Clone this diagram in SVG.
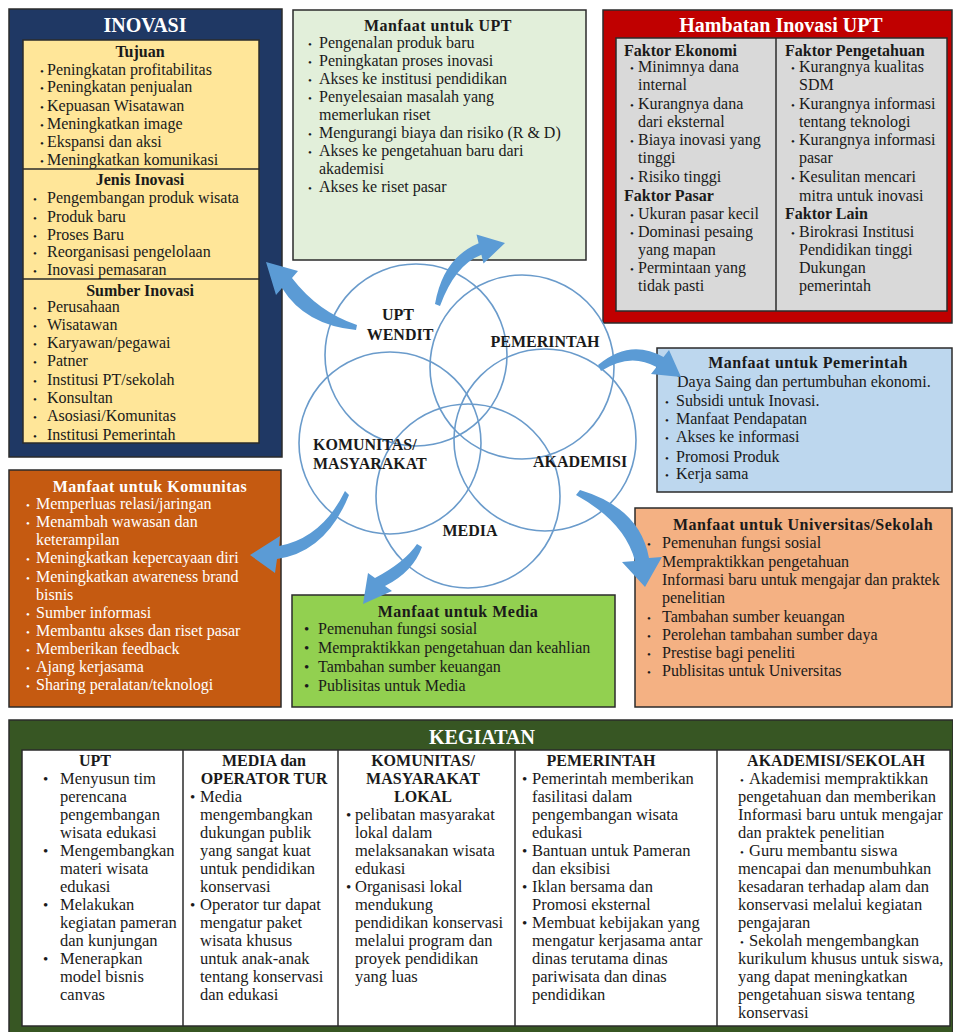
<svg xmlns="http://www.w3.org/2000/svg" width="953" height="1032" viewBox="0 0 953 1032">
<style>
text{font-family:"Liberation Serif","Times New Roman",serif;font-size:16px;fill:#1a1a1a}
.hd{font-weight:bold;text-anchor:middle}
.mt{font-weight:bold;text-anchor:middle;letter-spacing:0.5px}
.ttl{font-size:20px;font-weight:bold;fill:#fff;text-anchor:middle}
.wt{fill:#fff}
.bu{font-size:11px}
.bb{font-size:15px}
.k{font-size:16.5px}
.lbl{font-weight:bold;font-size:16px}
.box{stroke:#2b2b2b;stroke-width:1.5}
.circ{fill:none;stroke:#6a9bcb;stroke-width:1.6}
.arr{fill:#5b9bd5}
</style>
<rect width="953" height="1032" fill="#ffffff"/>

<g id="inovasi">
<rect class="box" x="9" y="9" width="273" height="448" fill="#1f3864"/>
<text class="ttl" x="145" y="32">INOVASI</text>
<rect class="box" x="23" y="40" width="236" height="403" fill="#ffe699"/>
<line x1="23" y1="169" x2="259" y2="169" stroke="#2b2b2b" stroke-width="1.5"/>
<line x1="23" y1="279" x2="259" y2="279" stroke="#2b2b2b" stroke-width="1.5"/>
<text class="hd" x="140" y="57">Tujuan</text>
<text y="75"><tspan class="bu" x="40">•</tspan><tspan x="47">Peningkatan profitabilitas</tspan></text>
<text y="92"><tspan class="bu" x="40">•</tspan><tspan x="47">Peningkatan penjualan</tspan></text>
<text y="111"><tspan class="bu" x="40">•</tspan><tspan x="47">Kepuasan Wisatawan</tspan></text>
<text y="129"><tspan class="bu" x="40">•</tspan><tspan x="47">Meningkatkan image</tspan></text>
<text y="147"><tspan class="bu" x="40">•</tspan><tspan x="47">Ekspansi dan aksi</tspan></text>
<text y="165"><tspan class="bu" x="40">•</tspan><tspan x="47">Meningkatkan komunikasi</tspan></text>
<text class="hd" x="140" y="185">Jenis Inovasi</text>
<text y="203"><tspan class="bu" x="33">•</tspan><tspan x="47">Pengembangan produk wisata</tspan></text>
<text y="222"><tspan class="bu" x="33">•</tspan><tspan x="47">Produk baru</tspan></text>
<text y="240"><tspan class="bu" x="33">•</tspan><tspan x="47">Proses Baru</tspan></text>
<text y="257"><tspan class="bu" x="33">•</tspan><tspan x="47">Reorganisasi pengelolaan</tspan></text>
<text y="275"><tspan class="bu" x="33">•</tspan><tspan x="47">Inovasi pemasaran</tspan></text>
<text class="hd" x="140" y="296">Sumber Inovasi</text>
<text y="312"><tspan class="bu" x="33">•</tspan><tspan x="47">Perusahaan</tspan></text>
<text y="330"><tspan class="bu" x="33">•</tspan><tspan x="47">Wisatawan</tspan></text>
<text y="348"><tspan class="bu" x="33">•</tspan><tspan x="47">Karyawan/pegawai</tspan></text>
<text y="366"><tspan class="bu" x="33">•</tspan><tspan x="47">Patner</tspan></text>
<text y="385"><tspan class="bu" x="33">•</tspan><tspan x="47">Institusi PT/sekolah</tspan></text>
<text y="403"><tspan class="bu" x="33">•</tspan><tspan x="47">Konsultan</tspan></text>
<text y="421"><tspan class="bu" x="33">•</tspan><tspan x="47">Asosiasi/Komunitas</tspan></text>
<text y="440"><tspan class="bu" x="33">•</tspan><tspan x="47">Institusi Pemerintah</tspan></text>
</g>

<g id="manfaat-upt">
<rect class="box" x="293" y="10" width="293" height="250" fill="#e2efda"/>
<text class="mt" x="438" y="31">Manfaat untuk UPT</text>
<text y="48"><tspan class="bu" x="308">•</tspan><tspan x="319">Pengenalan produk baru</tspan></text>
<text y="66"><tspan class="bu" x="308">•</tspan><tspan x="319">Peningkatan proses inovasi</tspan></text>
<text y="84"><tspan class="bu" x="308">•</tspan><tspan x="319">Akses ke institusi pendidikan</tspan></text>
<text y="102"><tspan class="bu" x="308">•</tspan><tspan x="319">Penyelesaian masalah yang</tspan></text>
<text x="319" y="120">memerlukan riset</text>
<text y="138"><tspan class="bu" x="308">•</tspan><tspan x="319">Mengurangi biaya dan risiko (R &amp; D)</tspan></text>
<text y="156"><tspan class="bu" x="308">•</tspan><tspan x="319">Akses ke pengetahuan baru dari</tspan></text>
<text x="319" y="174">akademisi</text>
<text y="192"><tspan class="bu" x="308">•</tspan><tspan x="319">Akses ke riset pasar</tspan></text>
</g>

<g id="hambatan">
<rect class="box" x="603" y="10" width="349" height="313" fill="#c00000"/>
<text class="ttl" x="781" y="32">Hambatan Inovasi UPT</text>
<rect class="box" x="616" y="38" width="331" height="273" fill="#d9d9d9"/>
<line x1="776" y1="38" x2="776" y2="311" stroke="#2b2b2b" stroke-width="1.5"/>
<text x="624" y="56" font-weight="bold">Faktor Ekonomi</text>
<text y="72"><tspan class="bu" x="630">•</tspan><tspan x="638">Minimnya dana</tspan></text>
<text x="638" y="90">internal</text>
<text y="109"><tspan class="bu" x="630">•</tspan><tspan x="638">Kurangnya dana</tspan></text>
<text x="638" y="127">dari eksternal</text>
<text y="145"><tspan class="bu" x="630">•</tspan><tspan x="638">Biaya inovasi yang</tspan></text>
<text x="638" y="163">tinggi</text>
<text y="182"><tspan class="bu" x="630">•</tspan><tspan x="638">Risiko tinggi</tspan></text>
<text x="624" y="201" font-weight="bold">Faktor Pasar</text>
<text y="219"><tspan class="bu" x="630">•</tspan><tspan x="638">Ukuran pasar kecil</tspan></text>
<text y="237"><tspan class="bu" x="630">•</tspan><tspan x="638">Dominasi pesaing</tspan></text>
<text x="638" y="255">yang mapan</text>
<text y="273"><tspan class="bu" x="630">•</tspan><tspan x="638">Permintaan yang</tspan></text>
<text x="638" y="291">tidak pasti</text>
<text x="785" y="56" font-weight="bold">Faktor Pengetahuan</text>
<text y="72"><tspan class="bu" x="791">•</tspan><tspan x="799">Kurangnya kualitas</tspan></text>
<text x="799" y="90">SDM</text>
<text y="109"><tspan class="bu" x="791">•</tspan><tspan x="799">Kurangnya informasi</tspan></text>
<text x="799" y="127">tentang teknologi</text>
<text y="145"><tspan class="bu" x="791">•</tspan><tspan x="799">Kurangnya informasi</tspan></text>
<text x="799" y="163">pasar</text>
<text y="182"><tspan class="bu" x="791">•</tspan><tspan x="799">Kesulitan mencari</tspan></text>
<text x="799" y="201">mitra untuk inovasi</text>
<text x="785" y="219" font-weight="bold">Faktor Lain</text>
<text y="237"><tspan class="bu" x="791">•</tspan><tspan x="799">Birokrasi Institusi</tspan></text>
<text x="799" y="255">Pendidikan tinggi</text>
<text x="799" y="273">Dukungan</text>
<text x="799" y="291">pemerintah</text>
</g>

<g id="manfaat-pemerintah">
<rect class="box" x="657" y="348" width="295" height="144" fill="#bdd7ee"/>
<text class="mt" x="808" y="368">Manfaat untuk Pemerintah</text>
<text x="677" y="387">Daya Saing dan pertumbuhan ekonomi.</text>
<text y="406"><tspan class="bu" x="665">•</tspan><tspan x="676">Subsidi untuk Inovasi.</tspan></text>
<text y="424"><tspan class="bu" x="665">•</tspan><tspan x="676">Manfaat Pendapatan</tspan></text>
<text y="442"><tspan class="bu" x="665">•</tspan><tspan x="676">Akses ke informasi</tspan></text>
<text y="462"><tspan class="bu" x="665">•</tspan><tspan x="676">Promosi Produk</tspan></text>
<text y="479"><tspan class="bu" x="665">•</tspan><tspan x="676">Kerja sama</tspan></text>
</g>

<g id="manfaat-komunitas">
<rect class="box" x="9" y="470" width="272" height="237" fill="#c55a11"/>
<text class="mt wt" x="150" y="492">Manfaat untuk Komunitas</text>
<text class="wt" y="509"><tspan class="bu wt" x="26">•</tspan><tspan class="wt" x="36">Memperluas relasi/jaringan</tspan></text>
<text class="wt" y="527"><tspan class="bu wt" x="26">•</tspan><tspan class="wt" x="36">Menambah wawasan dan</tspan></text>
<text class="wt" x="36" y="545">keterampilan</text>
<text class="wt" y="563"><tspan class="bu wt" x="26">•</tspan><tspan class="wt" x="36">Meningkatkan kepercayaan diri</tspan></text>
<text class="wt" y="582"><tspan class="bu wt" x="26">•</tspan><tspan class="wt" x="36">Meningkatkan awareness brand</tspan></text>
<text class="wt" x="36" y="600">bisnis</text>
<text class="wt" y="618"><tspan class="bu wt" x="26">•</tspan><tspan class="wt" x="36">Sumber informasi</tspan></text>
<text class="wt" y="636"><tspan class="bu wt" x="26">•</tspan><tspan class="wt" x="36">Membantu akses dan riset pasar</tspan></text>
<text class="wt" y="654"><tspan class="bu wt" x="26">•</tspan><tspan class="wt" x="36">Memberikan feedback</tspan></text>
<text class="wt" y="672"><tspan class="bu wt" x="26">•</tspan><tspan class="wt" x="36">Ajang kerjasama</tspan></text>
<text class="wt" y="690"><tspan class="bu wt" x="26">•</tspan><tspan class="wt" x="36">Sharing peralatan/teknologi</tspan></text>
</g>

<g id="manfaat-media">
<rect class="box" x="292" y="595" width="323" height="112" fill="#92d050"/>
<text class="mt" x="458" y="617">Manfaat untuk Media</text>
<text y="634"><tspan class="bb" x="304">•</tspan><tspan x="318">Pemenuhan fungsi sosial</tspan></text>
<text y="653"><tspan class="bb" x="304">•</tspan><tspan x="318">Mempraktikkan pengetahuan dan keahlian</tspan></text>
<text y="672"><tspan class="bb" x="304">•</tspan><tspan x="318">Tambahan sumber keuangan</tspan></text>
<text y="691"><tspan class="bb" x="304">•</tspan><tspan x="318">Publisitas untuk Media</tspan></text>
</g>

<g id="manfaat-universitas">
<rect class="box" x="635" y="508" width="317" height="199" fill="#f4b183"/>
<text class="mt" x="803" y="530">Manfaat untuk Universitas/Sekolah</text>
<text y="548"><tspan class="bu" x="647">•</tspan><tspan x="662">Pemenuhan fungsi sosial</tspan></text>
<text x="662" y="567">Mempraktikkan pengetahuan</text>
<text x="662" y="585">Informasi baru untuk mengajar dan praktek</text>
<text x="662" y="603">penelitian</text>
<text y="622"><tspan class="bu" x="647">•</tspan><tspan x="662">Tambahan sumber keuangan</tspan></text>
<text y="640"><tspan class="bu" x="647">•</tspan><tspan x="662">Perolehan tambahan sumber daya</tspan></text>
<text y="658"><tspan class="bu" x="647">•</tspan><tspan x="662">Prestise bagi peneliti</tspan></text>
<text y="676"><tspan class="bu" x="647">•</tspan><tspan x="662">Publisitas untuk Universitas</tspan></text>
</g>

<g id="stakeholders">
<circle class="circ" cx="416" cy="355" r="91"/>
<circle class="circ" cx="522" cy="367" r="92"/>
<circle class="circ" cx="390" cy="443" r="91"/>
<circle class="circ" cx="545" cy="440" r="91"/>
<circle class="circ" cx="468" cy="496" r="92"/>
<text class="lbl" x="398" y="320" text-anchor="middle">UPT</text>
<text class="lbl" x="400" y="340" text-anchor="middle">WENDIT</text>
<text class="lbl" x="545" y="347" text-anchor="middle">PEMERINTAH</text>
<text class="lbl" x="313" y="450">KOMUNITAS/</text>
<text class="lbl" x="313" y="469">MASYARAKAT</text>
<text class="lbl" x="580" y="467" text-anchor="middle">AKADEMISI</text>
<text class="lbl" x="470" y="536" text-anchor="middle">MEDIA</text>
</g>

<g id="kegiatan">
<rect class="box" x="9" y="720" width="944" height="314" fill="#375623"/>
<text class="ttl" x="482" y="744">KEGIATAN</text>
<rect class="box" x="22" y="750" width="928" height="276" fill="#ffffff"/>
<g stroke="#2b2b2b" stroke-width="1.5">
<line x1="183" y1="750" x2="183" y2="1026"/>
<line x1="338" y1="750" x2="338" y2="1026"/>
<line x1="515" y1="750" x2="515" y2="1026"/>
<line x1="717" y1="750" x2="717" y2="1026"/>
</g>
<text class="hd" x="95" y="766">UPT</text>
<text class="k" y="784"><tspan class="bb" x="43">•</tspan><tspan x="60">Menyusun tim</tspan></text>
<text class="k" x="60" y="802">perencana</text>
<text class="k" x="60" y="820">pengembangan</text>
<text class="k" x="60" y="838">wisata edukasi</text>
<text class="k" y="856"><tspan class="bb" x="43">•</tspan><tspan x="60">Mengembangkan</tspan></text>
<text class="k" x="60" y="874">materi wisata</text>
<text class="k" x="60" y="892">edukasi</text>
<text class="k" y="910"><tspan class="bb" x="43">•</tspan><tspan x="60">Melakukan</tspan></text>
<text class="k" x="60" y="928">kegiatan pameran</text>
<text class="k" x="60" y="946">dan kunjungan</text>
<text class="k" y="964"><tspan class="bb" x="43">•</tspan><tspan x="60">Menerapkan</tspan></text>
<text class="k" x="60" y="982">model bisnis</text>
<text class="k" x="60" y="1000">canvas</text>

<text class="hd" x="264" y="766">MEDIA dan</text>
<text class="hd" x="264" y="784">OPERATOR TUR</text>
<text class="k" y="802"><tspan class="bb" x="190">•</tspan><tspan x="200">Media</tspan></text>
<text class="k" x="200" y="820">mengembangkan</text>
<text class="k" x="200" y="838">dukungan publik</text>
<text class="k" x="200" y="856">yang sangat kuat</text>
<text class="k" x="200" y="874">untuk pendidikan</text>
<text class="k" x="200" y="892">konservasi</text>
<text class="k" y="910"><tspan class="bb" x="190">•</tspan><tspan x="200">Operator tur dapat</tspan></text>
<text class="k" x="200" y="928">mengatur paket</text>
<text class="k" x="200" y="946">wisata khusus</text>
<text class="k" x="200" y="964">untuk anak-anak</text>
<text class="k" x="200" y="982">tentang konservasi</text>
<text class="k" x="200" y="1000">dan edukasi</text>

<text class="hd" x="423" y="766">KOMUNITAS/</text>
<text class="hd" x="423" y="784">MASYARAKAT</text>
<text class="hd" x="423" y="802">LOKAL</text>
<text class="k" y="820"><tspan class="bb" x="346">•</tspan><tspan x="355">pelibatan masyarakat</tspan></text>
<text class="k" x="355" y="838">lokal dalam</text>
<text class="k" x="355" y="856">melaksanakan wisata</text>
<text class="k" x="355" y="874">edukasi</text>
<text class="k" y="892"><tspan class="bb" x="346">•</tspan><tspan x="355">Organisasi lokal</tspan></text>
<text class="k" x="355" y="910">mendukung</text>
<text class="k" x="355" y="928">pendidikan konservasi</text>
<text class="k" x="355" y="946">melalui program dan</text>
<text class="k" x="355" y="964">proyek pendidikan</text>
<text class="k" x="355" y="982">yang luas</text>

<text class="hd" x="601" y="766">PEMERINTAH</text>
<text class="k" y="784"><tspan class="bb" x="522">•</tspan><tspan x="532">Pemerintah memberikan</tspan></text>
<text class="k" x="532" y="802">fasilitasi dalam</text>
<text class="k" x="532" y="820">pengembangan wisata</text>
<text class="k" x="532" y="838">edukasi</text>
<text class="k" y="856"><tspan class="bb" x="522">•</tspan><tspan x="532">Bantuan untuk Pameran</tspan></text>
<text class="k" x="532" y="874">dan eksibisi</text>
<text class="k" y="892"><tspan class="bb" x="522">•</tspan><tspan x="532">Iklan bersama dan</tspan></text>
<text class="k" x="532" y="910">Promosi eksternal</text>
<text class="k" y="928"><tspan class="bb" x="522">•</tspan><tspan x="532">Membuat kebijakan yang</tspan></text>
<text class="k" x="532" y="946">mengatur kerjasama antar</text>
<text class="k" x="532" y="964">dinas terutama dinas</text>
<text class="k" x="532" y="982">pariwisata dan dinas</text>
<text class="k" x="532" y="1000">pendidikan</text>

<text class="hd" x="836" y="766">AKADEMISI/SEKOLAH</text>
<text class="k" y="784"><tspan class="bu" x="740">•</tspan><tspan x="749">Akademisi mempraktikkan</tspan></text>
<text class="k" x="738" y="802">pengetahuan dan memberikan</text>
<text class="k" x="738" y="820">Informasi baru untuk mengajar</text>
<text class="k" x="738" y="838">dan praktek penelitian</text>
<text class="k" y="856"><tspan class="bu" x="740">•</tspan><tspan x="749">Guru membantu siswa</tspan></text>
<text class="k" x="738" y="874">mencapai dan menumbuhkan</text>
<text class="k" x="738" y="892">kesadaran  terhadap alam dan</text>
<text class="k" x="738" y="910">konservasi melalui kegiatan</text>
<text class="k" x="738" y="928">pengajaran</text>
<text class="k" y="946"><tspan class="bu" x="740">•</tspan><tspan x="749">Sekolah mengembangkan</tspan></text>
<text class="k" x="738" y="964">kurikulum khusus untuk siswa,</text>
<text class="k" x="738" y="982">yang dapat meningkatkan</text>
<text class="k" x="738" y="1000">pengetahuan siswa tentang</text>
<text class="k" x="738" y="1018">konservasi</text>
</g>

<g id="connectors">
<path class="arr" d="M266,262 L298,271 L292,278 Q318,312 357,325 L356,330 Q305,325 282,288 L276,295 Z"/>
<path class="arr" d="M505,243 L483.5,263.5 L481.4,254.8 Q455,265 440,306 L435,304 Q443,258 478.6,243.2 L476.5,234.5 Z"/>
<path class="arr" d="M681,377 L651,374 L656.5,367 Q630,352 601,371 L598,365 Q630,338 663.5,357 L669,350 Z"/>
<path class="arr" d="M645,587 L622,562 L635,561 Q625,522 576,495 L580,490 Q640,508 649,558 L662,557 Z"/>
<path class="arr" d="M250,555 L280,536 L279,546 Q322,538 345,491 L349,495 Q326,552 277,559 L275,573 Z"/>
<path class="arr" d="M363,604 L368,573 L375,578 Q405,562 417,544 L422,547 Q413,572 385,586 L392,591 Z"/>
</g>
</svg>
